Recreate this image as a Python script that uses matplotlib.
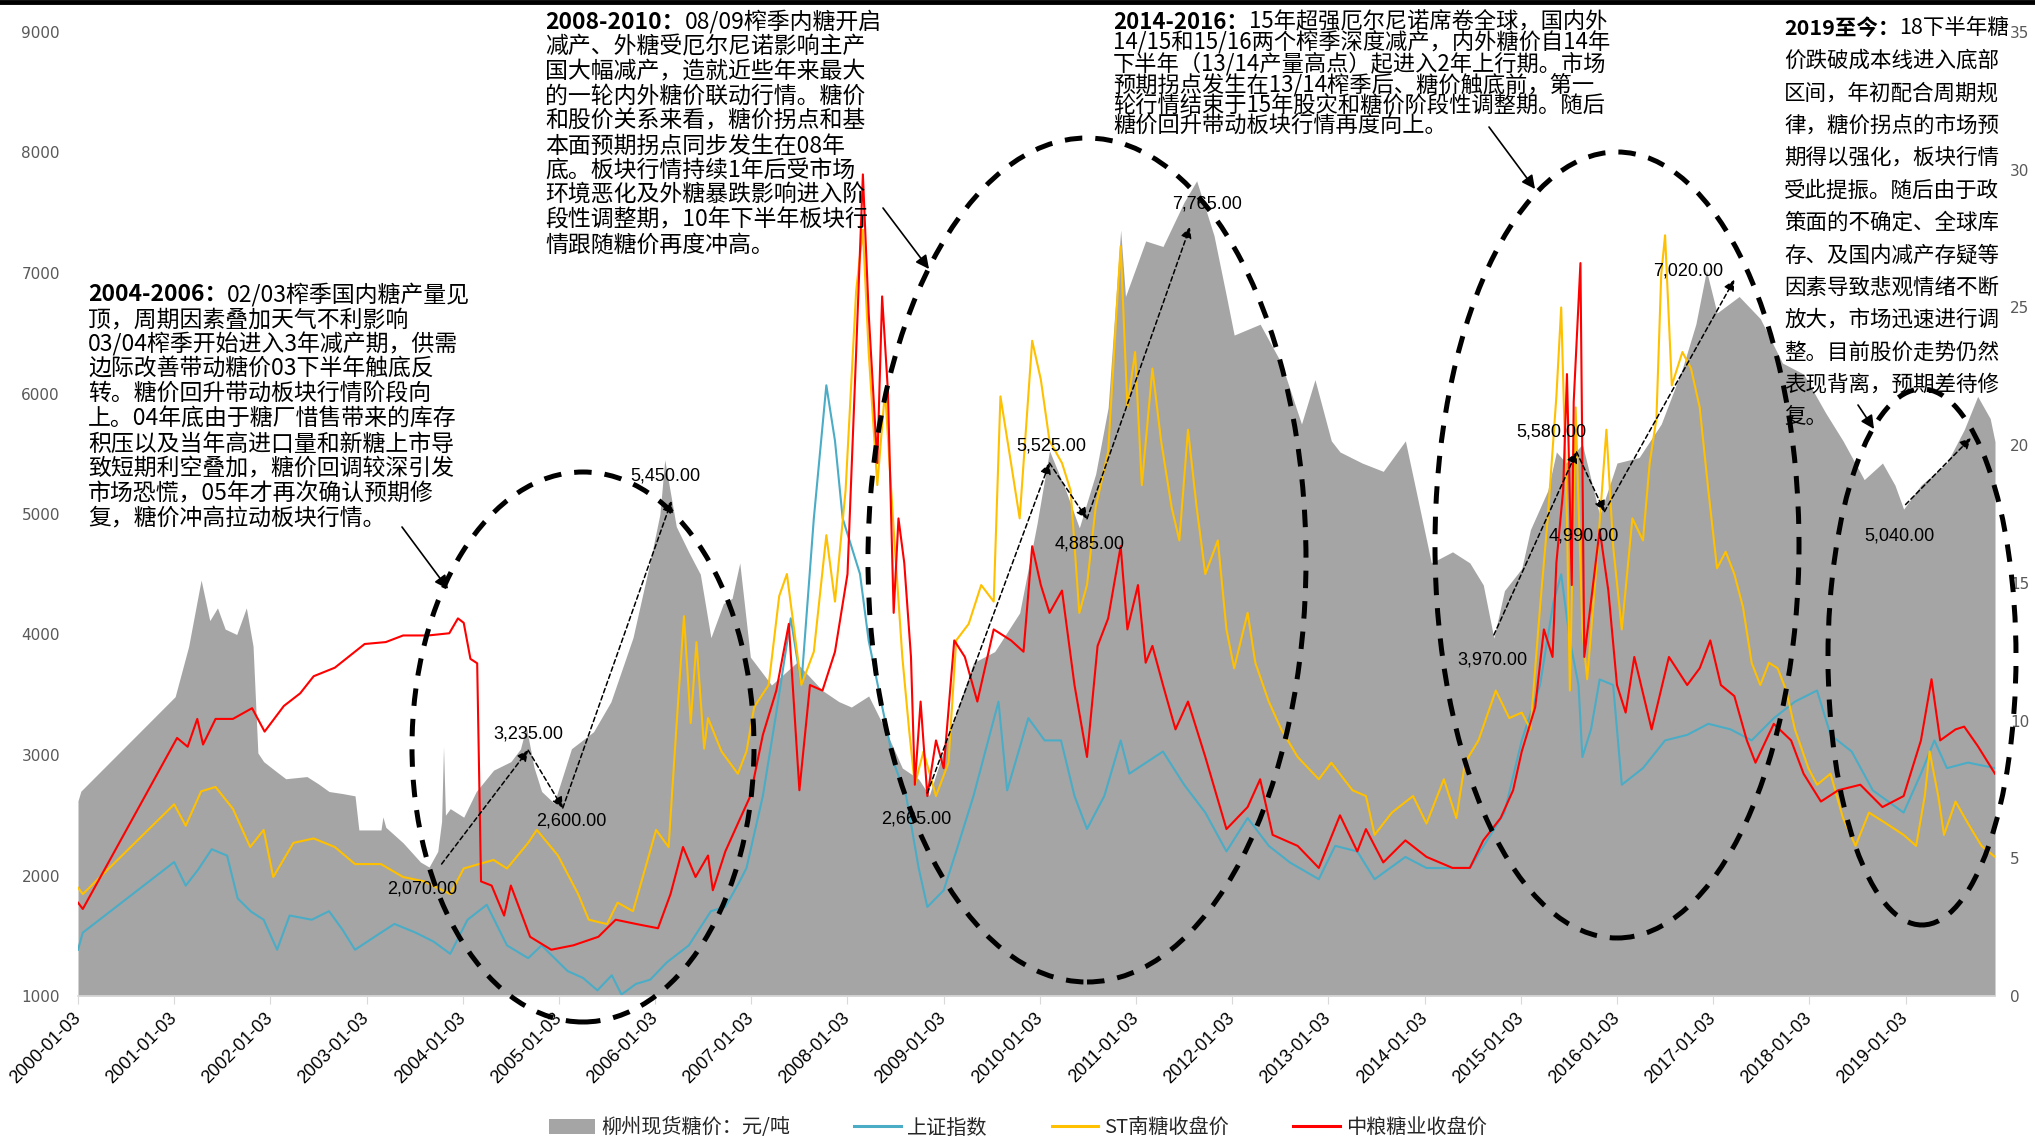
import matplotlib
matplotlib.use("Agg")
import matplotlib.pyplot as plt
from matplotlib.patches import Ellipse, Patch
from matplotlib.lines import Line2D

W, H = 2035, 1143
CJK = ["Noto Sans CJK SC", "DejaVu Sans"]
NARROW = ["Liberation Sans Narrow", "Liberation Sans", "DejaVu Sans"]
plt.rcParams["font.family"] = CJK

# dates are decimal years, 2000.0 == 2000-01-03
# 柳州现货糖价 (left axis, 元/吨)
spot_dates = [2000.00, 2000.03, 2001.01, 2001.15, 2001.28, 2001.37, 2001.45, 2001.53, 2001.65,
              2001.75, 2001.82, 2001.87, 2001.93, 2002.05, 2002.16, 2002.38, 2002.50, 2002.61,
              2002.75, 2002.88, 2002.92, 2003.15, 2003.17, 2003.20, 2003.38, 2003.56, 2003.65,
              2003.74, 2003.78, 2003.80, 2003.82, 2003.87, 2004.01, 2004.14, 2004.32, 2004.50,
              2004.60, 2004.66, 2004.74, 2004.82, 2004.95, 2005.05, 2005.13, 2005.36, 2005.54,
              2005.77, 2005.95, 2006.05, 2006.10, 2006.22, 2006.35, 2006.47, 2006.58, 2006.71,
              2006.80, 2006.88, 2006.99, 2007.21, 2007.47, 2007.74, 2007.91, 2008.04, 2008.22,
              2008.39, 2008.57, 2008.74, 2008.85, 2009.09, 2009.31, 2009.53, 2009.79, 2009.97,
              2010.10, 2010.27, 2010.41, 2010.58, 2010.71, 2010.84, 2010.89, 2011.10, 2011.28,
              2011.50, 2011.63, 2011.81, 2011.94, 2012.02, 2012.29, 2012.51, 2012.72, 2012.86,
              2013.03, 2013.12, 2013.35, 2013.57, 2013.80, 2013.96, 2014.07, 2014.29, 2014.47,
              2014.61, 2014.72, 2014.83, 2015.01, 2015.10, 2015.28, 2015.37, 2015.47, 2015.64,
              2015.82, 2016.00, 2016.23, 2016.46, 2016.68, 2016.82, 2016.93, 2017.04, 2017.27,
              2017.49, 2017.72, 2017.94, 2018.17, 2018.35, 2018.57, 2018.76, 2018.89, 2018.98,
              2019.16, 2019.43, 2019.61, 2019.75, 2019.88, 2019.93]
spot_price = [2620, 2700, 3484, 3900, 4452, 4115, 4221, 4045, 4000,
              4221, 3903, 3017, 2945, 2870, 2803, 2821, 2760, 2697,
              2680, 2661, 2378, 2378, 2486, 2400, 2271, 2112, 2070,
              2200, 2448, 3069, 2500, 2555, 2484, 2697, 2874, 2945,
              3050, 3235, 2900, 2697, 2600, 2850, 3052, 3193, 3441,
              3974, 4612, 5000, 5450, 4896, 4683, 4500, 3974, 4257,
              4300, 4594, 3813, 3581, 3766, 3535, 3443, 3398, 3490,
              3216, 2892, 2800, 2665, 3259, 3766, 3858, 4180, 4917,
              5525, 5194, 4885, 5332, 5884, 7357, 6805, 7266, 7220,
              7589, 7765, 7312, 6805, 6485, 6575, 6253, 5747, 6115,
              5607, 5515, 5423, 5354, 5607, 5008, 4594, 4686, 4594,
              4411, 3970, 4364, 4548, 4870, 5193, 5515, 5423, 5580,
              4990, 5423, 5469, 5747, 6207, 6576, 7020, 6668, 6805,
              6621, 6253, 6161, 5838, 5607, 5285, 5423, 5239, 5040,
              5239, 5423, 5700, 5976, 5792, 5600]

# 上证指数 (left axis)
sh_dates = [2000.00, 2000.05, 2001.00, 2001.12, 2001.25, 2001.39, 2001.55, 2001.66, 2001.80,
            2001.93, 2002.07, 2002.20, 2002.43, 2002.61, 2002.75, 2002.88, 2003.15, 2003.29,
            2003.51, 2003.70, 2003.87, 2004.05, 2004.25, 2004.46, 2004.68, 2004.82, 2005.09,
            2005.25, 2005.40, 2005.55, 2005.65, 2005.80, 2005.95, 2006.12, 2006.35, 2006.58,
            2006.73, 2006.88, 2006.95, 2007.12, 2007.26, 2007.41, 2007.52, 2007.65, 2007.78,
            2007.87, 2007.95, 2008.13, 2008.22, 2008.35, 2008.48, 2008.61, 2008.74, 2008.83,
            2009.00, 2009.13, 2009.31, 2009.57, 2009.66, 2009.88, 2010.05, 2010.22, 2010.36,
            2010.49, 2010.67, 2010.84, 2010.93, 2011.28, 2011.50, 2011.72, 2011.94, 2012.16,
            2012.38, 2012.60, 2012.90, 2013.07, 2013.30, 2013.48, 2013.80, 2014.02, 2014.29,
            2014.47, 2014.65, 2014.83, 2015.01, 2015.20, 2015.34, 2015.42, 2015.51, 2015.60,
            2015.64, 2015.73, 2015.82, 2015.96, 2016.05, 2016.27, 2016.50, 2016.73, 2016.95,
            2017.18, 2017.40, 2017.63, 2017.85, 2018.08, 2018.22, 2018.44, 2018.66, 2018.98,
            2019.16, 2019.30, 2019.43, 2019.65, 2019.93]
sh_index = [1384, 1526, 2112, 1916, 2050, 2218, 2165, 1810, 1700,
            1633, 1384, 1668, 1633, 1704, 1550, 1384, 1526, 1598,
            1526, 1450, 1350, 1633, 1757, 1420, 1314, 1420, 1207,
            1150, 1047, 1172, 1012, 1100, 1136, 1278, 1420, 1704,
            1739, 1952, 2062, 2660, 3351, 4134, 3581, 4963, 6068,
            5607, 4963, 4502, 3950, 3443, 2937, 2660, 2062, 1739,
            1877, 2200, 2660, 3443, 2706, 3306, 3121, 3121, 2660,
            2386, 2660, 3121, 2845, 3029, 2753, 2522, 2200, 2477,
            2246, 2108, 1969, 2246, 2200, 1969, 2154, 2062, 2062,
            2062, 2292, 2522, 3121, 3581, 4272, 4500, 3950, 3581,
            2983, 3213, 3627, 3581, 2753, 2891, 3121, 3167, 3259,
            3213, 3121, 3305, 3443, 3535, 3167, 3029, 2706, 2522,
            2845, 3121, 2891, 2937, 2891]

# ST南糖收盘价 (right axis)
stnt_dates = [2000.00, 2000.05, 2001.00, 2001.12, 2001.28, 2001.43, 2001.61, 2001.79, 2001.93,
              2002.03, 2002.24, 2002.45, 2002.67, 2002.88, 2003.15, 2003.38, 2003.60, 2003.87,
              2004.01, 2004.17, 2004.32, 2004.46, 2004.68, 2004.77, 2004.99, 2005.20, 2005.31,
              2005.50, 2005.61, 2005.77, 2005.91, 2006.01, 2006.14, 2006.23, 2006.30, 2006.37,
              2006.43, 2006.51, 2006.55, 2006.69, 2006.86, 2006.95, 2007.03, 2007.18, 2007.29,
              2007.37, 2007.52, 2007.65, 2007.78, 2007.87, 2007.98, 2008.09, 2008.16, 2008.22,
              2008.31, 2008.39, 2008.48, 2008.57, 2008.64, 2008.70, 2008.79, 2008.92, 2009.05,
              2009.13, 2009.26, 2009.39, 2009.52, 2009.59, 2009.70, 2009.79, 2009.92, 2010.01,
              2010.10, 2010.23, 2010.32, 2010.41, 2010.49, 2010.58, 2010.71, 2010.80, 2010.84,
              2010.91, 2010.99, 2011.06, 2011.17, 2011.26, 2011.37, 2011.45, 2011.54, 2011.63,
              2011.72, 2011.85, 2011.94, 2012.02, 2012.16, 2012.24, 2012.38, 2012.51, 2012.68,
              2012.90, 2013.03, 2013.25, 2013.39, 2013.48, 2013.66, 2013.88, 2014.02, 2014.20,
              2014.33, 2014.42, 2014.56, 2014.74, 2014.88, 2015.01, 2015.10, 2015.20, 2015.28,
              2015.37, 2015.42, 2015.48, 2015.51, 2015.57, 2015.64, 2015.69, 2015.78, 2015.89,
              2015.96, 2016.05, 2016.16, 2016.27, 2016.34, 2016.41, 2016.46, 2016.50, 2016.57,
              2016.68, 2016.77, 2016.86, 2016.95, 2017.04, 2017.13, 2017.22, 2017.31, 2017.40,
              2017.49, 2017.58, 2017.67, 2017.76, 2017.85, 2017.99, 2018.08, 2018.22, 2018.35,
              2018.48, 2018.62, 2018.80, 2018.98, 2019.11, 2019.20, 2019.25, 2019.34, 2019.40,
              2019.52, 2019.65, 2019.79, 2019.93]
stnt_price = [3.93, 3.70, 6.96, 6.18, 7.43, 7.59, 6.80, 5.41, 6.03,
              4.32, 5.56, 5.72, 5.41, 4.79, 4.79, 4.32, 4.16, 3.70,
              4.63, 4.79, 4.94, 4.63, 5.56, 6.03, 5.10, 3.70, 2.77,
              2.61, 3.39, 3.08, 4.79, 6.03, 5.41, 10.22, 13.79, 9.91,
              12.85, 8.98, 10.09, 8.88, 8.07, 8.88, 10.49, 11.29, 14.52,
              15.32, 11.29, 12.50, 16.73, 14.32, 18.35, 25.60, 27.82, 23.38,
              18.55, 21.98, 16.94, 12.31, 9.68, 7.67, 8.88, 7.26, 8.47,
              12.91, 13.51, 14.92, 14.32, 21.77, 19.35, 17.34, 23.79, 22.38,
              20.16, 19.35, 18.35, 13.91, 14.92, 17.74, 19.76, 25.00, 27.22,
              21.37, 23.38, 18.55, 22.78, 20.16, 17.74, 16.54, 20.56, 17.74,
              15.32, 16.54, 13.31, 11.90, 13.91, 12.10, 10.69, 9.68, 8.68,
              7.87, 8.47, 7.47, 7.26, 5.85, 6.66, 7.26, 6.26, 7.87,
              6.46, 8.47, 9.28, 11.09, 10.09, 10.29, 9.68, 14.12, 17.34,
              21.77, 25.00, 17.34, 11.09, 21.37, 13.31, 11.50, 15.32, 20.56,
              16.33, 13.31, 17.34, 16.54, 19.35, 20.96, 26.20, 27.62, 22.17,
              23.38, 22.78, 21.37, 18.35, 15.53, 16.13, 15.32, 14.12, 12.10,
              11.29, 12.10, 11.90, 11.09, 9.68, 8.27, 7.67, 8.07, 6.46,
              5.45, 6.66, 6.26, 5.85, 5.45, 7.26, 8.88, 7.26, 5.85,
              7.06, 6.26, 5.45, 5.05]

# 中粮糖业收盘价 (right axis)
cofco_dates = [2000.00, 2000.05, 2001.03, 2001.14, 2001.24, 2001.30, 2001.43, 2001.61, 2001.81,
               2001.94, 2002.14, 2002.31, 2002.45, 2002.67, 2002.98, 2003.20, 2003.38, 2003.64,
               2003.86, 2003.95, 2004.01, 2004.08, 2004.15, 2004.19, 2004.30, 2004.43, 2004.50,
               2004.70, 2004.92, 2005.15, 2005.41, 2005.59, 2005.81, 2006.03, 2006.16, 2006.29,
               2006.42, 2006.55, 2006.60, 2006.73, 2006.86, 2006.99, 2007.12, 2007.26, 2007.39,
               2007.50, 2007.61, 2007.74, 2007.87, 2008.00, 2008.09, 2008.16, 2008.22, 2008.31,
               2008.36, 2008.42, 2008.48, 2008.53, 2008.59, 2008.66, 2008.70, 2008.76, 2008.83,
               2008.92, 2009.00, 2009.11, 2009.22, 2009.35, 2009.52, 2009.70, 2009.83, 2009.92,
               2010.01, 2010.10, 2010.23, 2010.36, 2010.49, 2010.60, 2010.71, 2010.84, 2010.91,
               2011.02, 2011.10, 2011.17, 2011.28, 2011.41, 2011.54, 2011.72, 2011.94, 2012.16,
               2012.29, 2012.42, 2012.68, 2012.90, 2013.12, 2013.30, 2013.39, 2013.57, 2013.80,
               2014.02, 2014.29, 2014.47, 2014.61, 2014.79, 2014.92, 2015.01, 2015.15, 2015.24,
               2015.33, 2015.37, 2015.44, 2015.48, 2015.53, 2015.55, 2015.62, 2015.66, 2015.73,
               2015.82, 2015.91, 2016.00, 2016.09, 2016.18, 2016.36, 2016.54, 2016.73, 2016.86,
               2016.97, 2017.08, 2017.22, 2017.35, 2017.44, 2017.63, 2017.81, 2017.94, 2018.12,
               2018.30, 2018.53, 2018.76, 2018.98, 2019.16, 2019.27, 2019.36, 2019.52, 2019.61,
               2019.75, 2019.93]
cofco_price = [3.39, 3.16, 9.37, 9.05, 10.06, 9.13, 10.06, 10.06, 10.45,
               9.60, 10.53, 10.99, 11.61, 11.92, 12.78, 12.85, 13.09, 13.09,
               13.17, 13.71, 13.55, 12.24, 12.08, 4.16, 4.01, 2.92, 4.01,
               2.15, 1.68, 1.84, 2.15, 2.77, 2.61, 2.46, 3.70, 5.41,
               4.32, 5.10, 3.84, 5.25, 6.26, 7.26, 9.48, 11.09, 13.51,
               7.47, 11.29, 11.09, 12.50, 15.32, 23.38, 29.83, 24.80, 19.35,
               25.40, 21.98, 13.91, 17.34, 15.73, 12.31, 7.67, 10.69, 7.26,
               9.28, 8.27, 12.91, 12.31, 10.69, 13.31, 12.91, 12.50, 16.33,
               14.92, 13.91, 14.72, 11.29, 8.68, 12.71, 13.71, 16.33, 13.31,
               14.92, 12.10, 12.71, 11.29, 9.68, 10.69, 8.68, 6.06, 6.86,
               7.87, 5.85, 5.45, 4.65, 6.56, 5.25, 6.06, 4.85, 5.65,
               5.05, 4.65, 4.65, 5.65, 6.46, 7.47, 8.88, 10.49, 13.31,
               12.31, 15.73, 18.35, 22.58, 14.92, 21.57, 26.61, 12.31, 14.32,
               16.94, 14.72, 11.29, 10.29, 12.31, 9.68, 12.31, 11.29, 11.90,
               12.91, 11.29, 10.89, 9.28, 8.47, 9.88, 9.28, 8.07, 7.06,
               7.47, 7.67, 6.86, 7.26, 9.28, 11.50, 9.28, 9.68, 9.78,
               9.08, 8.07]

years = list(range(2000, 2020))
year_labels = [f"{y}-01-03" for y in years]

# turning points of the spot price: value shown, and where the label sits
turn_values = [2070, 3235, 2600, 5450, 2665, 5525, 4885, 7765, 3970, 5580, 4990, 7020, 5040]
label_dates = [2003.58, 2004.68, 2005.13, 2006.11, 2008.72, 2010.12, 2010.52, 2011.74,
               2014.71, 2015.32, 2015.65, 2016.74, 2018.94]
label_y = [1888, 3174, 2452, 5315, 2469, 5564, 4751, 7573, 3788, 5681, 4817, 7017, 4817]

# dotted arrow chains between turning points (date, price)
chains = [
    [(2003.78, 2095), (2004.68, 3040), (2005.04, 2560), (2006.17, 5108)],
    [(2008.83, 2684), (2010.10, 5423), (2010.49, 4960), (2011.56, 7381)],
    [(2014.72, 3996), (2015.58, 5515), (2015.87, 5020), (2017.22, 6944)],
    [(2019.00, 5078), (2019.68, 5631)],
]

notes = [
    (88, 294.6, 24.9, 16.5, "2004-2006：", [
        "02/03榨季国内糖产量见",
        "顶，周期因素叠加天气不利影响",
        "03/04榨季开始进入3年减产期，供需",
        "边际改善带动糖价03下半年触底反",
        "转。糖价回升带动板块行情阶段向",
        "上。04年底由于糖厂惜售带来的库存",
        "积压以及当年高进口量和新糖上市导",
        "致短期利空叠加，糖价回调较深引发",
        "市场恐慌，05年才再次确认预期修",
        "复，糖价冲高拉动板块行情。"]),
    (545, 22, 24.8, 16.5, "2008-2010：", [
        "08/09榨季内糖开启",
        "减产、外糖受厄尔尼诺影响主产",
        "国大幅减产，造就近些年来最大",
        "的一轮内外糖价联动行情。糖价",
        "和股价关系来看，糖价拐点和基",
        "本面预期拐点同步发生在08年",
        "底。板块行情持续1年后受市场",
        "环境恶化及外糖暴跌影响进入阶",
        "段性调整期，10年下半年板块行",
        "情跟随糖价再度冲高。"]),
    (1113, 22, 20.8, 16, "2014-2016：", [
        "15年超强厄尔尼诺席卷全球，国内外",
        "14/15和15/16两个榨季深度减产，内外糖价自14年",
        "下半年（13/14产量高点）起进入2年上行期。市场",
        "预期拐点发生在13/14榨季后、糖价触底前，第一",
        "轮行情结束于15年股灾和糖价阶段性调整期。随后",
        "糖价回升带动板块行情再度向上。"]),
    (1784, 28.5, 32.4, 15.5, "2019至今：", [
        "18下半年糖",
        "价跌破成本线进入底部",
        "区间，年初配合周期规",
        "律，糖价拐点的市场预",
        "期得以强化，板块行情",
        "受此提振。随后由于政",
        "策面的不确定、全球库",
        "存、及国内减产存疑等",
        "因素导致悲观情绪不断",
        "放大，市场迅速进行调",
        "整。目前股价走势仍然",
        "表现背离，预期差待修",
        "复。"]),
]

# pointer arrows from the notes to the circles (figure pixels from top-left)
pointers = [((402, 527), (448, 589)), ((883, 208), (929, 269)),
            ((1489, 127), (1535, 189)), ((1858, 405), (1874, 429))]
# dashed circles: centre x, centre y, width, height (figure pixels from top-left)
circles = [(583, 747, 342, 550), (1087, 560, 438, 844),
           (1617, 545, 364, 786), (1922, 657, 188, 536)]


def fig_xy(x, y):
    return x / W, 1 - y / H


fig = plt.figure(figsize=(W / 100, H / 100), dpi=100)
x0, y0 = fig_xy(78, 996)
x1, y1 = fig_xy(1995, 32)
ax = fig.add_axes([x0, y0, x1 - x0, y1 - y0])
ax2 = ax.twinx()

ax.fill_between(spot_dates, spot_price, 1000, color="#A5A5A5", linewidth=0, zorder=1)
ax.plot(sh_dates, sh_index, color="#4BACC6", lw=1.5, zorder=2)
ax2.plot(stnt_dates, stnt_price, color="#FFC000", lw=1.5)
ax2.plot(cofco_dates, cofco_price, color="#FF0000", lw=1.5)

ax.set_xlim(2000, 2019.93)
ax.set_ylim(1000, 9000)
ax2.set_ylim(0, 35)
ax.set_yticks(range(1000, 9001, 1000))
ax2.set_yticks(range(0, 36, 5))
ax.set_xticks(years)
ax.set_xticklabels(year_labels, rotation=45, ha="right", va="center",
                   rotation_mode="anchor", family=NARROW, fontsize=13)

for a in (ax, ax2):
    for s in ("top", "left", "right", "bottom"):
        a.spines[s].set_visible(False)
ax.spines["bottom"].set_visible(True)
ax.spines["bottom"].set_color("#D9D9D9")
ax.spines["bottom"].set_linewidth(1.2)
ax.tick_params(axis="x", length=6, color="#D9D9D9", pad=8)
ax.tick_params(axis="y", length=0, pad=13, labelsize=11, labelcolor="#595959")
ax2.tick_params(axis="y", length=0, pad=11, labelsize=11, labelcolor="#595959")
for lbl in ax.get_yticklabels() + ax2.get_yticklabels():
    lbl.set_family("DejaVu Sans")

# value labels at the turning points
for d, yv, v in zip(label_dates, label_y, turn_values):
    ax2.annotate(f"{v:,.2f}", xy=(d, yv), xycoords=ax.transData, ha="center", va="center",
                 fontsize=13, family=["Liberation Sans", "DejaVu Sans"], color="black",
                 annotation_clip=False, zorder=6)

# dotted arrows
for chain in chains:
    for p, q in zip(chain[:-1], chain[1:]):
        ax2.annotate("", xy=q, xycoords=ax.transData, xytext=p, textcoords=ax.transData,
                     annotation_clip=False, zorder=6,
                     arrowprops=dict(arrowstyle="-|>", color="black", lw=1.1,
                                     linestyle=(0, (3, 2)), mutation_scale=16,
                                     shrinkA=0, shrinkB=0))

# dashed circles
for cx, cy, w, h in circles:
    ex, ey = fig_xy(cx, cy)
    fig.patches.append(Ellipse((ex, ey), w / W, h / H, transform=fig.transFigure,
                               fill=False, edgecolor="black", lw=3.6,
                               linestyle=(0, (3.5, 2.6)), zorder=5))

# solid pointers from the notes
for (sx, sy), (tx, ty) in pointers:
    ax2.annotate("", xy=(tx, H - ty), xycoords="figure pixels",
                 xytext=(sx, H - sy), textcoords="figure pixels", annotation_clip=False,
                 arrowprops=dict(arrowstyle="-|>", color="black", lw=1.2,
                                 mutation_scale=20, shrinkA=0, shrinkB=0))

# note text blocks
for nx, ny, step, size, head, lines in notes:
    h = ax2.annotate(head, xy=(nx, H - ny), xycoords="figure pixels", ha="left", va="center",
                     fontsize=size, fontweight="bold", color="black", annotation_clip=False,
                     zorder=7)
    ax2.annotate(lines[0], xy=(1, 0), xycoords=h, ha="left", va="bottom", fontsize=size,
                 color="black", annotation_clip=False, zorder=7)
    for i, line in enumerate(lines[1:], start=1):
        ax2.annotate(line, xy=(nx, H - ny - i * step), xycoords="figure pixels", ha="left",
                     va="center", fontsize=size, color="black", annotation_clip=False,
                     zorder=7)

# thick rule along the top edge
fig.add_artist(Line2D([0, 1], [1 - 2 / H, 1 - 2 / H], transform=fig.transFigure,
                      color="black", lw=3.5))

handles = [Patch(facecolor="#A5A5A5", edgecolor="none"),
           Line2D([], [], color="#4BACC6", lw=2.2),
           Line2D([], [], color="#FFC000", lw=2.2),
           Line2D([], [], color="#FF0000", lw=2.2)]
labels = ["柳州现货糖价：元/吨", "上证指数", "ST南糖收盘价", "中粮糖业收盘价"]
fig.legend(handles, labels, loc="center", bbox_to_anchor=(0.5, 1 - 1128 / H), ncol=4,
           frameon=False, prop=dict(family=CJK, size=14.5), handlelength=2.3,
           handleheight=0.7, columnspacing=3.2, handletextpad=0.3, labelcolor="#262626")

fig.savefig("out.png", dpi=100)
